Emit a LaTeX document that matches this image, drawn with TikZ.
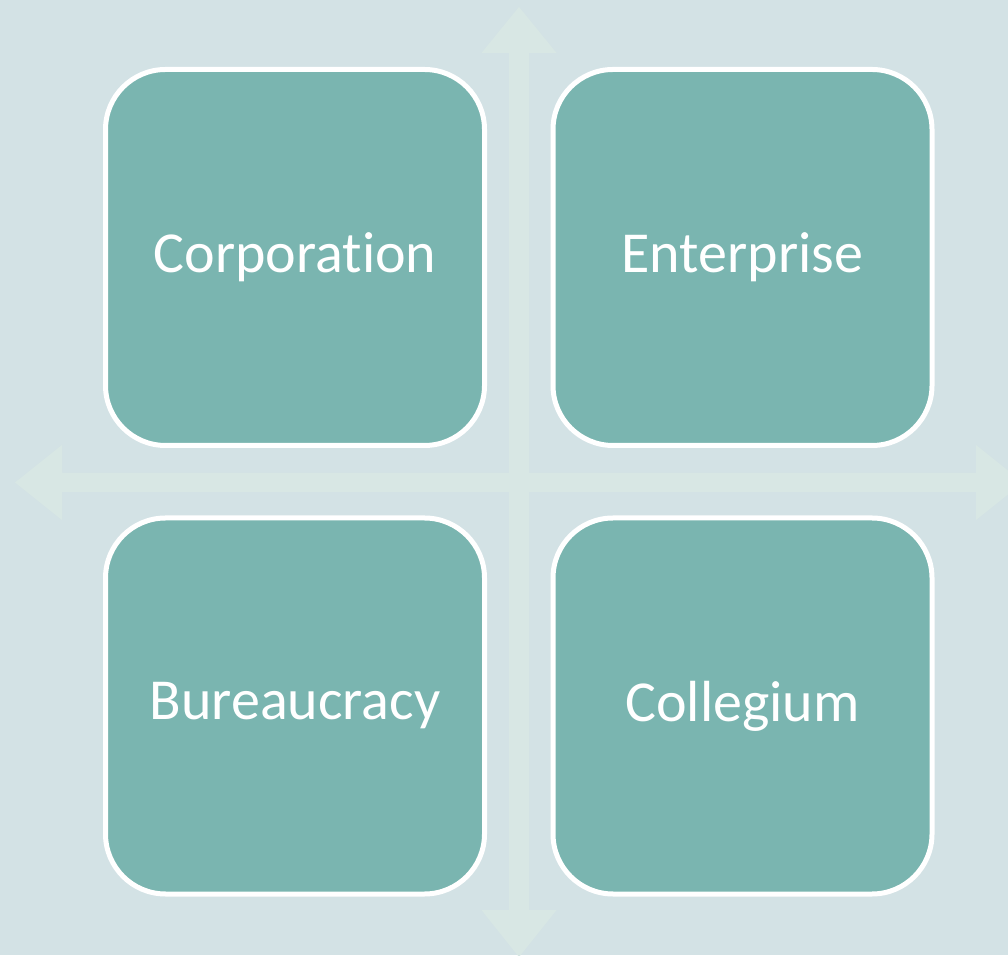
\documentclass[tikz,border=0pt]{standalone}
\usepackage{fontspec}
\setmainfont{Carlito}[Ligatures=NoCommon]
\definecolor{bgcol}{RGB}{211,226,229}
\definecolor{crosscol}{RGB}{216,231,228}
\definecolor{tealbox}{RGB}{122,181,176}
\tikzset{
  quadbox/.style={draw=white, line width=5pt, fill=tealbox, rounded corners=60pt,
    minimum width=379pt, minimum height=376pt, inner sep=0pt,
    text=white, font=\fontsize{58}{62}\selectfont},
  crossarrow/.style={fill=crosscol, draw=none}
}
\begin{document}
\begin{tikzpicture}[x=1pt,y=1pt]
  % canvas
  \fill[bgcol] (0,0) rectangle (1008,955);
  \useasboundingbox (0,0) rectangle (1008,955);
  \clip (0,0) rectangle (1008,955);
  % horizontal double arrow
  \fill[crossarrow] (15,472.5) -- (62,510) -- (62,482) -- (976,482) -- (976,510)
    -- (1023,472.5) -- (976,435) -- (976,463) -- (62,463) -- (62,435) -- cycle;
  % vertical double arrow
  \fill[crossarrow] (519,948) -- (556.5,902) -- (529,902) -- (529,45) -- (556.5,45)
    -- (519,-2) -- (481.5,45) -- (509,45) -- (509,902) -- (481.5,902) -- cycle;
  % quadrants
  \node[quadbox] (corp) at (295,697.5) {Corporation};
  \node[quadbox] (ent)  at (742.5,697.5) {Enterprise};
  \node[quadbox] (bur)  at (295,249) {Bureaucracy};
  \node[quadbox] (col)  at (742.5,249) {Collegium};
\end{tikzpicture}
\end{document}
